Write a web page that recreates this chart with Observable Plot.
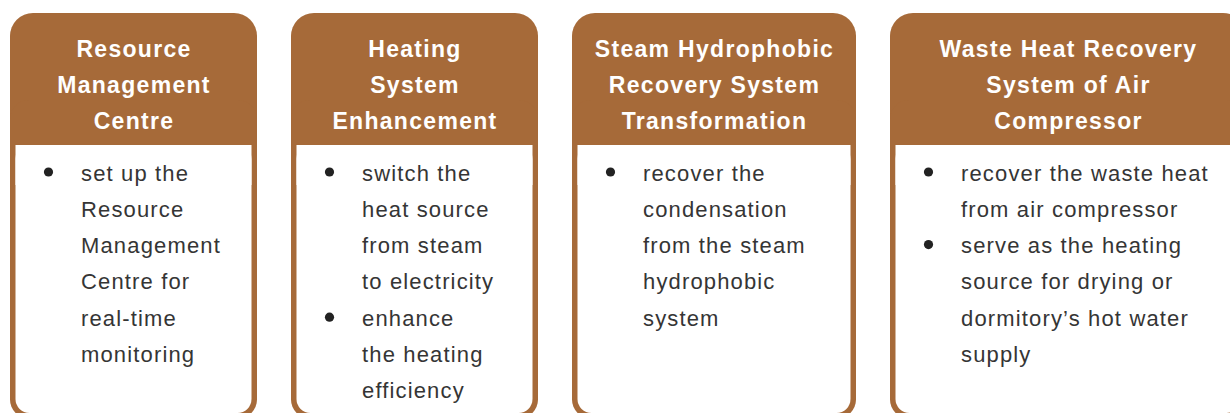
<!DOCTYPE html>
<html>
<head>
<meta charset="utf-8">
<script src="https://cdn.jsdelivr.net/npm/d3@7"></script>
<script src="https://cdn.jsdelivr.net/npm/@observablehq/plot@0.6"></script>
<style>
  html, body { margin: 0; padding: 0; background: #fff; overflow: hidden; }
  #chart svg { overflow: hidden; display: block; }
  #chart svg text { letter-spacing: 1.15px; }
  #chart svg g.hdr text { letter-spacing: 1.3px; }
</style>
</head>
<body>
<div id="chart"></div>
<script>
// ---- content (data) ----
const titles = [
  ["Resource", "Management", "Centre"],
  ["Heating", "System", "Enhancement"],
  ["Steam Hydrophobic", "Recovery System", "Transformation"],
  ["Waste Heat Recovery", "System of Air", "Compressor"]
];
const bullets = [
  [["set up the", "Resource", "Management", "Centre for", "real-time", "monitoring"]],
  [["switch the", "heat source", "from steam", "to electricity"], ["enhance", "the heating", "efficiency"]],
  [["recover the", "condensation", "from the steam", "hydrophobic", "system"]],
  [["recover the waste heat", "from air compressor"], ["serve as the heating", "source for drying or", "dormitory’s hot water", "supply"]]
];

// ---- layout (presentation) ----
const W = 1230, H = 413;
const cardWidths = [247, 247, 284, 356];
const gap = 34, left0 = 10, cardTop = 13, cardBottom = 418.5, headerBottom = 145, border = 5.5;
const brown = "#A66A39";
const headerBase = 56, headerStep = 36;
const bodyBase = 180, bodyStep = 36.3;
const bulletDx = 38, textDx = 70.5;

let acc = left0;
const cards = cardWidths.map((w, i) => {
  const c = {i, x1: acc, x2: acc + w, cx: acc + w / 2};
  acc += w + gap;
  return c;
});

const headerLines = [];
titles.forEach((lines, i) => lines.forEach((t, j) => headerLines.push({card: i, text: t, x: cards[i].cx, y: headerBase + j * headerStep})));

const bodyLines = [], dots = [];
bullets.forEach((items, i) => {
  let j = 0;
  items.forEach(lines => {
    dots.push({x: cards[i].x1 + bulletDx, y: bodyBase + j * bodyStep - 8.5});
    lines.forEach(t => { bodyLines.push({text: t, x: cards[i].x1 + textDx, y: bodyBase + j * bodyStep}); j++; });
  });
});

const plot = Plot.plot({
  width: W, height: H,
  margin: 0,
  x: {domain: [0, W], range: [0, W], axis: null},
  y: {domain: [0, H], range: [0, H], axis: null},
  marks: [
    // card top (header) with larger corner radius
    Plot.rect(cards, {x1: "x1", x2: "x2", y1: () => cardTop, y2: () => 220, fill: brown, rx: 23, ry: 23}),
    // card body outline with smaller bottom corner radius
    Plot.rect(cards, {x1: "x1", x2: "x2", y1: () => 100, y2: () => cardBottom, fill: brown, rx: 19, ry: 19}),
    // white body
    Plot.rect(cards, {x1: d => d.x1 + border, x2: d => d.x2 - border, y1: () => headerBottom, y2: () => cardBottom - border, fill: "#fff", rx: 14, ry: 14}),
    Plot.rect(cards, {x1: d => d.x1 + border, x2: d => d.x2 - border, y1: () => headerBottom, y2: () => headerBottom + 40, fill: "#fff"}),
    Plot.dot(dots, {x: "x", y: "y", r: 4.6, fill: "#222", stroke: null}),
    Plot.text(headerLines, {x: "x", y: "y", text: "text", textAnchor: "middle", lineAnchor: "bottom",
      fill: "#fff", fontSize: 23, fontWeight: "bold", fontFamily: "Liberation Sans, Arial, sans-serif", className: "hdr"}),
    Plot.text(bodyLines, {x: "x", y: "y", text: "text", textAnchor: "start", lineAnchor: "bottom",
      fill: "#353535", fontSize: 22, fontFamily: "Liberation Sans, Arial, sans-serif"})
  ]
});
document.getElementById("chart").appendChild(plot);
</script>
</body>
</html>
